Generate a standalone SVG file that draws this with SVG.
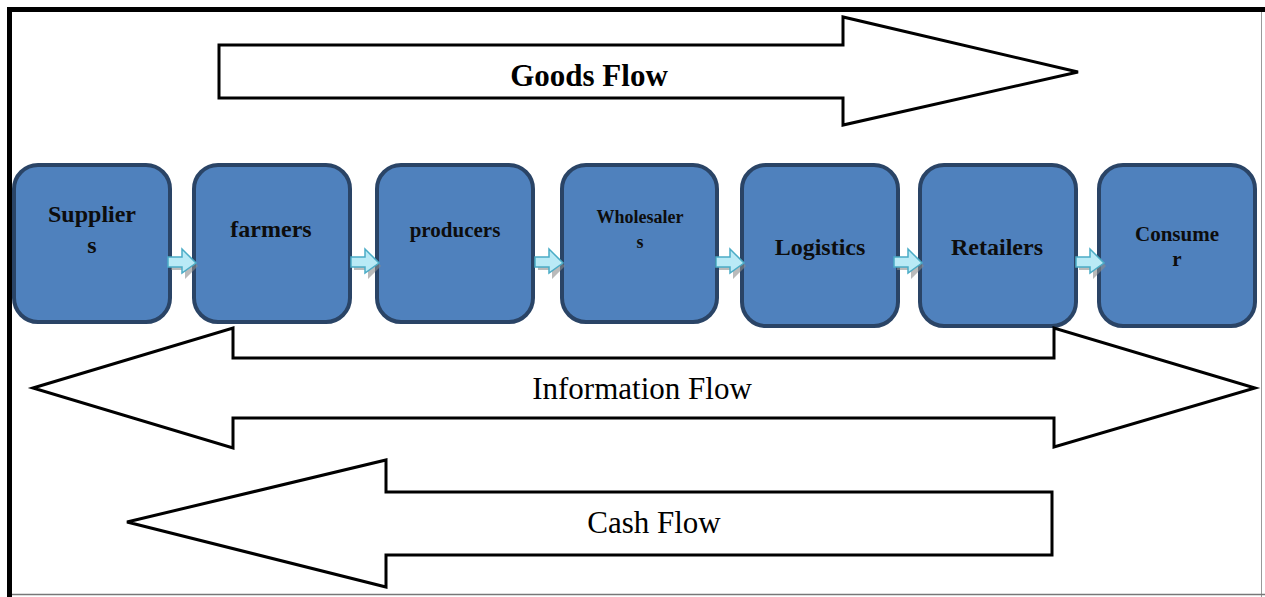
<svg xmlns="http://www.w3.org/2000/svg" width="1265" height="597" viewBox="0 0 1265 597">
  <style>
    .node { fill: #4f81bd; stroke: #2a4466; stroke-width: 4; }
    .label { font-family: "Liberation Serif", "Times New Roman", serif; font-weight: bold; fill: #0d0d0d; text-anchor: middle; }
    .flow { fill: #ffffff; stroke: #000000; stroke-width: 3; stroke-linejoin: miter; }
    .flowtext { font-family: "Liberation Serif", "Times New Roman", serif; fill: #000000; text-anchor: middle; font-size: 31px; }
  </style>
  <defs>
    <!-- small step arrow between stages, with drop shadow -->
    <g id="step">
      <path d="M3,11 H17 V3 L30,17 L17,30 V21 H3 Z" fill="#8c8c8c" opacity="0.6"/>
      <path d="M0,8 H14 V0 L28,14 L14,24 V18 H0 Z" fill="#b9eaf6" stroke="#4bacc6" stroke-width="1.5" stroke-linejoin="miter"/>
    </g>
  </defs>

  <rect width="1265" height="597" fill="#ffffff"/>

  <!-- outer frame -->
  <g id="frame">
    <line x1="7" y1="9.5" x2="1265" y2="9.5" stroke="#000" stroke-width="5"/>
    <line x1="9.5" y1="7" x2="9.5" y2="597" stroke="#000" stroke-width="5"/>
    <line x1="1261.5" y1="12" x2="1261.5" y2="597" stroke="#999" stroke-width="1"/>
    <line x1="12" y1="594.5" x2="1265" y2="594.5" stroke="#777" stroke-width="1.5"/>
  </g>

  <!-- goods flow -->
  <g id="goods-flow">
    <path class="flow" d="M219,45 H843 V17 L1078,72 L843,125 V98 H219 Z"/>
    <text class="flowtext" x="589" y="86" font-weight="bold">Goods Flow</text>
  </g>

  <!-- stage nodes -->
  <g id="suppliers">
    <rect class="node" x="14" y="165" width="156" height="157" rx="24"/>
    <text class="label" x="92" y="222" font-size="24">Supplier</text>
    <text class="label" x="92" y="253" font-size="24">s</text>
  </g>
  <g id="farmers">
    <rect class="node" x="194" y="165" width="156" height="157" rx="24"/>
    <text class="label" x="271" y="237" font-size="24">farmers</text>
  </g>
  <g id="producers">
    <rect class="node" x="377" y="165" width="156" height="157" rx="24"/>
    <text class="label" x="455" y="237" font-size="21">producers</text>
  </g>
  <g id="wholesalers">
    <rect class="node" x="562" y="165" width="155" height="157" rx="24"/>
    <text class="label" x="640" y="223" font-size="18">Wholesaler</text>
    <text class="label" x="640" y="248" font-size="18">s</text>
  </g>
  <g id="logistics">
    <rect class="node" x="742" y="165" width="156" height="161" rx="24"/>
    <text class="label" x="820" y="255" font-size="24">Logistics</text>
  </g>
  <g id="retailers">
    <rect class="node" x="920" y="165" width="156" height="161" rx="24"/>
    <text class="label" x="997" y="255" font-size="24">Retailers</text>
  </g>
  <g id="consumer">
    <rect class="node" x="1099" y="165" width="156" height="161" rx="24"/>
    <text class="label" x="1177" y="241" font-size="21">Consume</text>
    <text class="label" x="1177" y="266" font-size="21">r</text>
  </g>

  <!-- connectors between stages -->
  <g id="connectors">
    <use href="#step" x="168" y="249"/>
    <use href="#step" x="351" y="249"/>
    <use href="#step" x="535" y="249"/>
    <use href="#step" x="716" y="249"/>
    <use href="#step" x="894" y="249"/>
    <use href="#step" x="1076" y="249"/>
  </g>

  <!-- information flow (two-way) -->
  <g id="information-flow">
    <path class="flow" d="M33,388 L233,328 V358 H1054 V328 L1255,388 L1054,447 V418 H233 V448 Z"/>
    <text class="flowtext" x="642" y="399">Information Flow</text>
  </g>

  <!-- cash flow -->
  <g id="cash-flow">
    <path class="flow" d="M127,522 L386,460 V492 H1052 V555 H386 V587 Z"/>
    <text class="flowtext" x="654" y="533">Cash Flow</text>
  </g>
</svg>
